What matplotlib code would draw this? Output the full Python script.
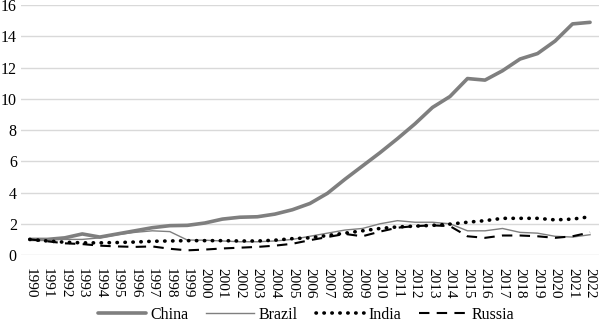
import matplotlib
matplotlib.use("Agg")
import matplotlib.pyplot as plt
import numpy as np

years = [str(y) for y in range(1990, 2023)]

china = [1.0, 1.0, 1.1, 1.35, 1.15, 1.35, 1.55, 1.75, 1.88, 1.9,
         2.05, 2.3, 2.42, 2.45, 2.62, 2.9, 3.3, 3.95, 4.85, 5.7,
         6.55, 7.45, 8.4, 9.45, 10.15, 11.3, 11.2, 11.8, 12.55, 12.9,
         13.7, 14.8, 14.9]
brazil = [1.0, 1.0, 1.0, 1.0, 1.1, 1.3, 1.45, 1.55, 1.5, 0.96,
          0.95, 0.9, 0.85, 0.85, 0.9, 1.0, 1.2, 1.4, 1.6, 1.7,
          2.0, 2.2, 2.1, 2.1, 2.0, 1.55, 1.55, 1.7, 1.45, 1.4,
          1.2, 1.15, 1.3]
india = [1.0, 0.9, 0.82, 0.78, 0.78, 0.8, 0.83, 0.88, 0.9, 0.92,
         0.92, 0.92, 0.9, 0.9, 0.95, 1.05, 1.1, 1.25, 1.4, 1.55,
         1.7, 1.8, 1.85, 1.9, 1.98, 2.1, 2.2, 2.35, 2.35, 2.35,
         2.25, 2.3, 2.45]
russia = [1.0, 0.88, 0.75, 0.7, 0.6, 0.55, 0.52, 0.55, 0.4, 0.3,
          0.35, 0.42, 0.47, 0.52, 0.6, 0.72, 0.95, 1.15, 1.35, 1.2,
          1.5, 1.75, 1.85, 1.9, 1.85, 1.2, 1.1, 1.25, 1.25, 1.2,
          1.1, 1.2, 1.45]

plt.rcParams['font.family'] = 'serif'
plt.rcParams['font.serif'] = ['Liberation Serif', 'DejaVu Serif']

fig = plt.figure(figsize=(6, 3.22), dpi=100)
ax = fig.add_axes([0.035, 0.208, 0.963, 0.776])

x = np.arange(len(years))
ax.plot(x, china, color='#7f7f7f', lw=2.6, solid_capstyle='round', label='China', zorder=3)
ax.plot(x, brazil, color='#7f7f7f', lw=1.0, label='Brazil', zorder=3)
ax.plot(x, india, color='black', lw=2.6, linestyle=(0, (0.1, 2.1)),
        dash_capstyle='round', label='India', zorder=3)
ax.plot(x, russia, color='black', lw=1.5, linestyle=(0, (5, 3.5)), label='Russia', zorder=3)

ax.set_xlim(-0.5, len(years) - 0.5)
ax.set_ylim(0, 16)
ax.set_yticks(range(0, 17, 2))
ax.set_xticks(x)
ax.set_xticklabels(years, rotation=270, fontsize=11)
ax.tick_params(axis='y', labelsize=11.5, length=0, pad=3)
ax.tick_params(axis='x', length=0, pad=9)
ax.grid(axis='y', color='#d9d9d9', lw=1)
ax.set_axisbelow(True)
for s in ax.spines.values():
    s.set_visible(False)

fig.legend(loc='lower center', bbox_to_anchor=(0.51, -0.047), ncol=4, frameon=False,
           fontsize=11.5, handlelength=3.0, handletextpad=0.3, columnspacing=1.1)

fig.savefig('out.png', dpi=100)
